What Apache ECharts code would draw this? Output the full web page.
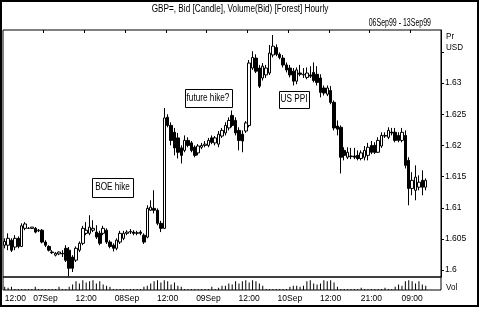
<!DOCTYPE html>
<html><head><meta charset="utf-8">
<script src="https://cdn.jsdelivr.net/npm/echarts@6/dist/echarts.min.js"></script>
<style>html,body{margin:0;padding:0;background:#fff}#c{width:481px;height:310px}</style>
</head><body><div id="c"></div>
<script>
const opens = [1.6040,1.6040,1.6048,1.6037,1.6051,1.6038,1.6067,1.6067,1.6067,1.6067,
 1.6063,1.6064,1.6045,1.6038,1.6029,1.6024,1.6026,1.6027,1.6035,1.6032,
 1.6021,1.6016,1.6032,1.6043,1.6059,1.6059,1.6064,1.6061,1.6059,1.6059,
 1.6064,1.6045,1.6040,1.6035,1.6045,1.6051,1.6059,1.6061,1.6061,1.6059,
 1.6061,1.6056,1.6053,1.6096,1.6099,1.6096,1.6075,1.6067,1.6245,1.6232,
 1.6221,1.6212,1.6196,1.6192,1.6208,1.6204,1.6197,1.6188,1.6197,1.6200,
 1.6200,1.6212,1.6204,1.6202,1.6215,1.6220,1.6228,1.6248,1.6240,1.6224,
 1.6218,1.6223,1.6232,1.6324,1.6340,1.6324,1.6308,1.6313,1.6316,1.6345,
 1.6357,1.6346,1.6340,1.6329,1.6324,1.6319,1.6303,1.6316,1.6313,1.6309,
 1.6313,1.6317,1.6314,1.6308,1.6292,1.6282,1.6288,1.6269,1.6231,1.6229,
 1.6192,1.6181,1.6183,1.6183,1.6184,1.6179,1.6181,1.6184,1.6200,1.6200,
 1.6189,1.6199,1.6215,1.6213,1.6221,1.6221,1.6216,1.6208,1.6216,1.6176,
 1.6131,1.6128,1.6133,1.6144,1.6133];
const closes = [1.6046,1.6051,1.6032,1.6051,1.6038,1.6071,1.6074,1.6067,1.6069,1.6061,
 1.6064,1.6045,1.6040,1.6032,1.6028,1.6027,1.6029,1.6026,1.6016,1.6003,
 1.6003,1.6035,1.6043,1.6067,1.6064,1.6069,1.6067,1.6053,1.6043,1.6067,
 1.6045,1.6038,1.6035,1.6048,1.6059,1.6059,1.6061,1.6062,1.6059,1.6060,
 1.6059,1.6045,1.6099,1.6101,1.6096,1.6075,1.6067,1.6244,1.6232,1.6208,
 1.6196,1.6189,1.6184,1.6208,1.6200,1.6192,1.6184,1.6199,1.6200,1.6202,
 1.6208,1.6205,1.6212,1.6218,1.6224,1.6232,1.6240,1.6232,1.6220,1.6208,
 1.6207,1.6236,1.6332,1.6341,1.6319,1.6295,1.6327,1.6324,1.6348,1.6359,
 1.6346,1.6341,1.6329,1.6321,1.6313,1.6303,1.6321,1.6314,1.6314,1.6316,
 1.6311,1.6304,1.6301,1.6285,1.6284,1.6292,1.6269,1.6228,1.6226,1.6181,
 1.6184,1.6189,1.6182,1.6181,1.6179,1.6188,1.6192,1.6197,1.6189,1.6189,
 1.6208,1.6216,1.6216,1.6224,1.6220,1.6208,1.6208,1.6221,1.6168,1.6131,
 1.6144,1.6149,1.6141,1.6133,1.6144];
const lows = [1.6035,1.6032,1.6029,1.6032,1.6035,1.6037,1.6064,1.6066,1.6066,1.6059,
 1.6061,1.6043,1.6037,1.6030,1.6026,1.6022,1.6024,1.6021,1.6013,1.5990,
 1.5997,1.6013,1.6029,1.6040,1.6056,1.6056,1.6061,1.6050,1.6040,1.6056,
 1.6042,1.6035,1.6030,1.6032,1.6042,1.6048,1.6056,1.6058,1.6056,1.6056,
 1.6056,1.6042,1.6051,1.6095,1.6091,1.6072,1.6061,1.6066,1.6229,1.6200,
 1.6184,1.6179,1.6171,1.6189,1.6197,1.6189,1.6181,1.6184,1.6194,1.6197,
 1.6197,1.6202,1.6200,1.6197,1.6212,1.6216,1.6224,1.6229,1.6216,1.6192,
 1.6189,1.6220,1.6229,1.6321,1.6316,1.6292,1.6304,1.6308,1.6313,1.6341,
 1.6343,1.6338,1.6325,1.6317,1.6309,1.6296,1.6298,1.6311,1.6308,1.6306,
 1.6308,1.6301,1.6296,1.6277,1.6280,1.6279,1.6266,1.6224,1.6216,1.6155,
 1.6176,1.6178,1.6178,1.6178,1.6176,1.6176,1.6176,1.6176,1.6186,1.6186,
 1.6188,1.6196,1.6212,1.6210,1.6216,1.6205,1.6205,1.6205,1.6163,1.6104,
 1.6120,1.6112,1.6128,1.6120,1.6128];
const highs = [1.6051,1.6059,1.6051,1.6056,1.6054,1.6075,1.6077,1.6069,1.6069,1.6069,
 1.6066,1.6066,1.6048,1.6040,1.6032,1.6029,1.6030,1.6032,1.6040,1.6037,
 1.6024,1.6038,1.6046,1.6071,1.6077,1.6088,1.6080,1.6072,1.6063,1.6071,
 1.6067,1.6048,1.6043,1.6051,1.6063,1.6063,1.6064,1.6066,1.6064,1.6063,
 1.6064,1.6059,1.6104,1.6112,1.6128,1.6099,1.6079,1.6260,1.6250,1.6237,
 1.6228,1.6220,1.6200,1.6216,1.6213,1.6207,1.6200,1.6202,1.6204,1.6207,
 1.6212,1.6216,1.6215,1.6223,1.6228,1.6237,1.6245,1.6256,1.6245,1.6229,
 1.6224,1.6239,1.6337,1.6351,1.6346,1.6329,1.6332,1.6329,1.6361,1.6377,
 1.6362,1.6349,1.6345,1.6333,1.6329,1.6324,1.6325,1.6329,1.6324,1.6325,
 1.6327,1.6333,1.6327,1.6314,1.6296,1.6296,1.6295,1.6272,1.6240,1.6232,
 1.6197,1.6197,1.6196,1.6196,1.6192,1.6192,1.6199,1.6204,1.6207,1.6205,
 1.6213,1.6221,1.6221,1.6229,1.6228,1.6228,1.6221,1.6228,1.6224,1.6181,
 1.6157,1.6168,1.6152,1.6160,1.6147];
const volumes = [3,2,3, 1,1,1,1,1,1, 3, 1,1,1,1,1,1, 3, 1,1, 3,
 5,8,6,9,7,8,9,6,8,5,4, 3, 1,1,1,1,1,1,1,1,1, 3,
 4,6,8,9,7,9,8, 5,7,4,3, 1,1,1,1,1,1,1,1, 3,
 1,2,4,4,6,5,8,6, 8,9,7,9,8,6,4, 1,1,1,1,1,1,1,
 3,4,4,3,4, 8,9,6,5,6,9,8,9,7, 3,
 1,1,1,1,1,1,2,1,1,1,1,1,1,2,1,1,
 3,5,4,8,9,8,6,8,5,4];
const tickLabels = ['12:00','07Sep','12:00','08Sep','12:00','09Sep','12:00','10Sep','12:00','21:00','09:00'];
const priceLabels = ['1.6','1.605','1.61','1.615','1.62','1.625','1.63'];
const labelStep = 12;
const slotCount = 129;
const categories = Array.from({length: slotCount}, (_, i) => 'h' + i);

const FONT = '"Liberation Sans", Arial, sans-serif';
const candles = opens.map((o, i) => [o, closes[i], lows[i], highs[i]]);

const chart = echarts.init(document.getElementById('c'), null, {renderer: 'canvas'});

function boxLabel(cx, cy, w, h, t) {
  return {
    type: 'group', z: 20,
    children: [
      {type: 'rect', z: 20, shape: {x: Math.round(cx - w / 2) + 0.5, y: Math.round(cy - h / 2) + 0.5, width: w, height: h},
       style: {fill: '#fff', stroke: '#000', lineWidth: 1}},
      {type: 'text', z: 21, x: cx, y: cy, scaleX: 0.82,
       style: {text: t, fill: '#000', font: '10px ' + FONT, align: 'center', verticalAlign: 'middle',
               textAlign: 'center', textVerticalAlign: 'middle'}}
    ]
  };
}
function txt(x, y, t, align, size, sx) {
  return {type: 'text', z: 20, x: x, y: y, scaleX: sx,
    style: {text: t, fill: '#000', font: size + 'px ' + FONT, align: align, verticalAlign: 'middle',
            textAlign: align, textVerticalAlign: 'middle'}};
}

chart.setOption({
  animation: false,
  backgroundColor: '#fff',
  grid: [
    {left: 3, right: 40, top: 30, height: 247, show: true, borderColor: '#000', borderWidth: 1, backgroundColor: 'transparent'},
    {left: 3, right: 40, top: 277, height: 13, show: true, borderColor: '#000', borderWidth: 1, backgroundColor: 'transparent'}
  ],
  xAxis: [
    {type: 'category', gridIndex: 0, data: categories, boundaryGap: true, position: 'top',
     axisLine: {show: false},
     axisTick: {show: true, inside: true, length: 3, interval: (i) => i > 0 && i % labelStep === 0, lineStyle: {color: '#000'}},
     axisLabel: {show: false}, splitLine: {show: false}},
    {type: 'category', gridIndex: 1, data: categories, boundaryGap: true, position: 'bottom',
     axisLine: {show: false}, axisTick: {show: false}, splitLine: {show: false},
     axisLabel: {show: true, interval: (i) => i % labelStep === 0, color: '#000', fontSize: 8.5, fontFamily: FONT, margin: 4,
       alignMinLabel: 'left',
       formatter: (v, i) => { const k = i / labelStep; return Number.isInteger(k) && tickLabels[k] ? tickLabels[k] : ''; }}}
  ],
  yAxis: [
    {type: 'value', gridIndex: 0, position: 'right', min: 1.5989, max: 1.6385, splitNumber: 8, scale: true,
     splitLine: {show: false},
     axisLine: {show: true, lineStyle: {color: '#000'}},
     axisTick: {show: true, length: 3, lineStyle: {color: '#000'}},
     axisLabel: {show: true, color: '#000', fontSize: 8.5, fontFamily: FONT, margin: 4, showMinLabel: false, showMaxLabel: false,
       formatter: (v) => { const s = String(+v.toFixed(4)); return priceLabels.indexOf(s) >= 0 ? s : ''; }}},
    {type: 'value', gridIndex: 1, min: 0, max: 12, show: false}
  ],
  series: [
    {type: 'candlestick', xAxisIndex: 0, yAxisIndex: 0, data: candles, barWidth: 3,
     itemStyle: {color: '#fff', color0: '#000', borderColor: '#000', borderColor0: '#000', borderColorDoji: '#000', borderWidth: 1}},
    {type: 'bar', xAxisIndex: 1, yAxisIndex: 1, data: volumes, barWidth: 1, itemStyle: {color: '#000'}}
  ],
  graphic: [
    {type: 'rect', z: 30, shape: {x: 1, y: 1, width: 477, height: 305}, style: {fill: 'none', stroke: '#000', lineWidth: 2}},
    txt(240, 9, 'GBP=, Bid [Candle], Volume(Bid) [Forest] Hourly', 'center', 10, 0.82),
    txt(431, 23, '06Sep99 - 13Sep99', 'right', 10, 0.7),
    txt(446, 36, 'Pr', 'left', 9.5, 0.85),
    txt(446, 47, 'USD', 'left', 9.5, 0.85),
    txt(446, 287, 'Vol', 'left', 9.5, 0.85),
    boxLabel(112.5, 187, 41, 19, 'BOE hike'),
    boxLabel(208, 98, 47, 18, 'future hike?'),
    boxLabel(294, 99, 30, 17, 'US PPI')
  ]
});
</script>
</body></html>
